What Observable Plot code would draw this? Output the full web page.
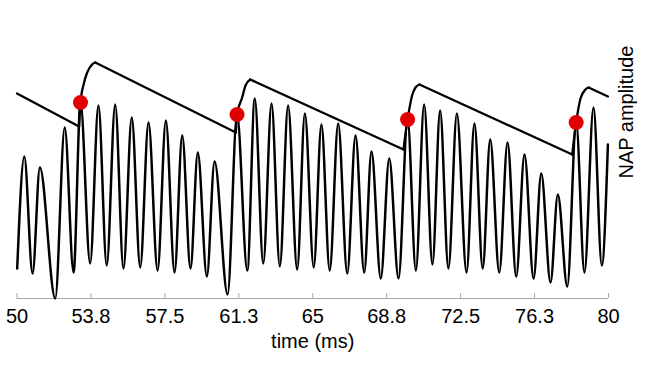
<!DOCTYPE html>
<html><head><meta charset="utf-8">
<script src="https://cdn.jsdelivr.net/npm/d3@7"></script>
<script src="https://cdn.jsdelivr.net/npm/@observablehq/plot@0.6"></script>
<style>html,body{margin:0;padding:0;background:#fff;}</style>
</head><body><div id="chart"></div>
<script>
// NAP signal: extrema (time in ms, amplitude in arbitrary units)
const sigTime = [50.01, 50.37, 50.79, 51.16, 51.94, 52.42, 52.87, 53.22, 53.71, 54.13,
  54.55, 54.98, 55.40, 55.82, 56.25, 56.67, 57.13, 57.55, 57.99, 58.38,
  58.80, 59.17, 59.63, 60.02, 60.68, 61.16, 61.68, 62.06, 62.49, 62.91,
  63.33, 63.75, 64.21, 64.60, 65.05, 65.44, 65.86, 66.29, 66.75, 67.17,
  67.61, 67.98, 68.45, 68.88, 69.35, 69.81, 70.23, 70.65, 71.07, 71.46,
  71.88, 72.31, 72.80, 73.20, 73.62, 74.00, 74.46, 74.88, 75.32, 75.74,
  76.20, 76.59, 77.06, 77.43, 77.91, 78.36, 78.78, 79.24, 79.66, 79.97];
const sigAmp = [0.30, 1.42, 0.25, 1.31, 0.00, 1.71, 0.26, 1.96, 0.35, 1.93,
  0.33, 1.94, 0.30, 1.81, 0.31, 1.76, 0.28, 1.78, 0.26, 1.63,
  0.30, 1.46, 0.22, 1.37, 0.04, 1.84, 0.28, 2.00, 0.35, 1.95,
  0.32, 1.93, 0.29, 1.85, 0.31, 1.74, 0.28, 1.75, 0.25, 1.63,
  0.26, 1.47, 0.20, 1.40, 0.20, 1.79, 0.28, 1.94, 0.34, 1.88,
  0.30, 1.85, 0.26, 1.75, 0.30, 1.59, 0.26, 1.56, 0.22, 1.44,
  0.20, 1.25, 0.16, 1.04, 0.12, 1.76, 0.26, 1.91, 0.33, 1.54];

// NAP amplitude envelope (rises after each detected peak, then decays)
const envTime = [50.00, 53.15, 53.22, 53.39, 53.56, 53.81, 53.97,
  61.10, 61.16, 61.42, 61.59, 61.83,
  69.60, 69.81, 70.04, 70.21, 70.41,
  78.16, 78.36, 78.58, 78.83, 78.99, 79.97];
const envAmp = [2.05, 1.72, 1.96, 2.15, 2.26, 2.34, 2.36,
  1.66, 1.84, 2.01, 2.13, 2.19,
  1.49, 1.79, 2.03, 2.11, 2.14,
  1.44, 1.76, 2.00, 2.09, 2.11, 2.02];

// detected peaks (red dots)
const dotTime = [53.22, 61.16, 69.81, 78.36];
const dotAmp = [1.96, 1.84, 1.79, 1.76];

const tickValues = [50, 53.75, 57.5, 61.25, 65, 68.75, 72.5, 76.25, 80];
const tickLabels = ["50", "53.8", "57.5", "61.3", "65", "68.8", "72.5", "76.3", "80"];
const xLabel = "time (ms)";
const yLabel = "NAP amplitude";

const signal = sigTime.map((t, i) => ({t, a: sigAmp[i]}));
const dots = dotTime.map((t, i) => ({t, a: dotAmp[i]}));
const env = envTime.map((t, i) => ({t, a: envAmp[i]}));
const decay = [], rise = [];
let riseId = -1, inRise = false;
for (let i = 0; i < env.length - 1; i++) {
  const p = env[i], q = env[i + 1];
  if (q.a >= p.a) {
    if (!inRise) { riseId++; rise.push({...p, seg: riseId}); inRise = true; }
    rise.push({...q, seg: riseId});
  } else {
    inRise = false;
    decay.push({...p, seg: i}, {...q, seg: i});
  }
}

const axisGray = "#a8a8a8";
const chart = Plot.plot({
  width: 646,
  height: 366,
  marginLeft: 16.5,
  marginRight: 38,
  marginTop: 38,
  marginBottom: 68,
  style: {fontFamily: "'Liberation Sans', Arial, sans-serif", background: "#fff", color: "#000"},
  x: {domain: [50, 80], label: null},
  y: {domain: [0, 2.6], axis: null},
  marks: [
    Plot.ruleY([0], {stroke: axisGray, strokeWidth: 1}),
    Plot.ruleX(tickValues, {y1: 0, y2: 0.05, stroke: axisGray, strokeWidth: 1}),
    Plot.line(signal, {x: "t", y: "a", curve: "monotone-x", stroke: "#000", strokeWidth: 2.5}),
    Plot.line(decay, {x: "t", y: "a", z: "seg", stroke: "#000", strokeWidth: 2.3}),
    Plot.line(rise, {x: "t", y: "a", z: "seg", curve: "monotone-x", stroke: "#000", strokeWidth: 2.3}),
    Plot.dot(dots, {x: "t", y: "a", r: 7.5, fill: "#e00000", stroke: "none"}),
    Plot.axisX({ticks: tickValues, tickFormat: d => tickLabels[tickValues.indexOf(d)], tickSize: 0, tickPadding: 10, fontSize: 20, label: null}),
    Plot.text([xLabel], {frameAnchor: "bottom", text: d => d, dy: 43, fontSize: 20, lineAnchor: "middle", fill: "#000"}),
    Plot.text([yLabel], {frameAnchor: "top-right", text: d => d, dx: 18, dy: 7, rotate: -90, textAnchor: "end", lineAnchor: "middle", fontSize: 20, fill: "#000"})
  ]
});
document.getElementById("chart").appendChild(chart);
</script>
</body></html>
